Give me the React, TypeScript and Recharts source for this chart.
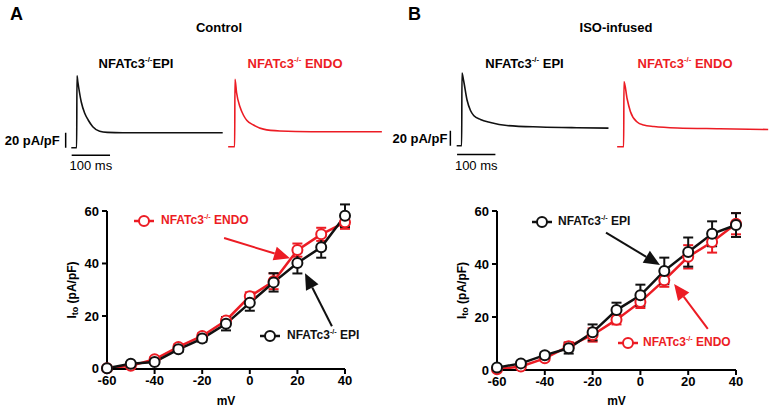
import React from "react";
import { LineChart, Line, XAxis, YAxis, ErrorBar, ReferenceLine, Legend } from "recharts";

const RED = "#ec1c24";
const BLACK = "#111111";
const FONT = "Arial, 'Liberation Sans', Helvetica, sans-serif";

// step potentials (mV)
const voltages = [-60, -50, -40, -30, -20, -10, 0, 10, 20, 30, 40];

// Control: Ito density (pA/pF), mean and SEM
const ctrlEpi = [0.1, 1.8, 2.5, 7.3, 11.4, 17, 25, 32.8, 40.2, 46.2, 58.2];
const ctrlEpiErr = [0.3, 0.5, 0.8, 1, 1.2, 2.5, 3, 3.5, 4, 4, 4.3];
const ctrlEndo = [0.1, 1.0, 3.5, 8.2, 12.4, 18.3, 27.5, 33.2, 45.1, 51.1, 55.7];
const ctrlEndoErr = [0.3, 0.4, 0.8, 1, 1, 1.3, 1.5, 3, 2.5, 2.5, 2.5];

// ISO-infused
const isoEpi = [0.9, 2.5, 5.6, 8.2, 14.2, 22.6, 28.2, 37.4, 44.5, 51.4, 54.7];
const isoEpiErr = [0.5, 0.7, 1, 2, 3, 2.8, 4, 5, 5.5, 4.7, 4.5];
const isoEndo = [0.3, 1.3, 4.4, 9, 13.2, 19, 25.7, 33.9, 42.7, 48.3, 55.2];
const isoEndoErr = [0.3, 0.5, 0.8, 1.5, 2.5, 1.8, 2.3, 2.5, 4.4, 4, 4];

const xTicks = [-60, -40, -20, 0, 20, 40];
const yTicks = [0, 20, 40, 60];

// example Ito traces: time (ms) / current (pA/pF)
const ctrlEpiTraceT = [-14, 0, 0.8, 3, 6, 12, 21, 30, 42, 60, 80, 120, 200, 290, 381];
const ctrlEpiTraceI = [0, 0, 96, 88, 78, 61, 46, 37, 28, 22, 20.5, 20, 20, 20, 20];
const ctrlEndoTraceT = [-17, 0, 0.8, 5, 14, 23, 32, 49, 75, 118, 200, 300, 384];
const ctrlEndoTraceI = [0, 0, 90, 72, 53, 42, 35, 29, 23.5, 21, 20, 20, 20];
const isoEpiTraceT = [-13, 0, 0.8, 5, 14, 23, 32, 49, 75, 118, 205, 300, 383];
const isoEpiTraceI = [0, 0, 97, 87, 61, 47, 40, 35, 31, 27, 25, 24, 23.5];
const isoEndoTraceT = [-17, 0, 0.8, 9, 17.5, 35, 52, 79, 140, 250, 377];
const isoEndoTraceI = [0, 0, 87, 64, 47, 33, 29, 27, 25, 24, 23];

// arrows pointing at the curves, in (mV, pA/pF)
const ctrlArrows = [
  { color: RED, from: [-10.8, 49.7], to: [16.9, 42.0] },
  { color: BLACK, from: [34.5, 16.1], to: [23.2, 36.3] },
];
const isoArrows = [
  { color: BLACK, from: [-14.4, 51.8], to: [8.2, 39.6] },
  { color: RED, from: [28.2, 15.5], to: [14.1, 32.5] },
];

const arrowShape = (color: string) => (props: any) => {
  const { x1, y1, x2, y2 } = props;
  const a = Math.atan2(y2 - y1, x2 - x1);
  const len = 16;
  const half = 7;
  const bx = x2 - len * Math.cos(a);
  const by = y2 - len * Math.sin(a);
  const px = -Math.sin(a) * half;
  const py = Math.cos(a) * half;
  return (
    <g>
      <line x1={x1} y1={y1} x2={bx} y2={by} stroke={color} strokeWidth={2} />
      <polygon points={`${x2},${y2} ${bx + px},${by + py} ${bx - px},${by - py}`} fill={color} />
    </g>
  );
};

const Geno = ({ tail }: { tail: string }) => (
  <span>
    NFATc3<span style={{ fontSize: "0.6em", position: "relative", top: "-0.7em" }}>-/-</span>
    {tail}
  </span>
);

function Trace({ t, i, color, left, top, bars }: any) {
  const data = t.map((v: number, k: number) => ({ t: v, i: i[k] }));
  const lbl = { fill: "#000", fontSize: 13, fontFamily: FONT };
  return (
    <div style={{ position: "absolute", left, top }}>
      <LineChart width={230} height={102} data={data} margin={{ top: 0, right: 0, bottom: 0, left: 0 }}>
        <XAxis type="number" dataKey="t" domain={[-200, 400]} hide />
        <YAxis type="number" domain={[-35, 101]} hide />
        <Line type="monotone" dataKey="i" stroke={color} strokeWidth={1.6} dot={false} isAnimationActive={false} />
        {bars && (
          <ReferenceLine
            segment={[{ x: bars.vt, y: 0 }, { x: bars.vt, y: 20 }]}
            stroke="#000"
            strokeWidth={1.5}
            ifOverflow="visible"
            label={{ value: "20 pA/pF", position: "left", offset: bars.vOffset, fontWeight: 700, ...lbl }}
          />
        )}
        {bars && (
          <ReferenceLine
            segment={[{ x: bars.ht[0], y: bars.hi }, { x: bars.ht[1], y: bars.hi }]}
            stroke="#000"
            strokeWidth={1.5}
            ifOverflow="visible"
            label={{ value: "100 ms", position: "bottom", offset: 6, ...lbl }}
          />
        )}
      </LineChart>
    </div>
  );
}

function IVChart({ left, top, width, height, xAxisHeight, epi, epiErr, endo, endoErr, arrows, legendItems }: any) {
  const data = voltages.map((v, k) => ({
    mV: v,
    epi: epi[k],
    epiErr: epiErr[k],
    endo: endo[k],
    endoErr: endoErr[k],
  }));
  const tick = { fill: "#000", fontSize: 13, fontWeight: 700, fontFamily: FONT };

  // error bars above 60 stretch the value axis; keep 60 at the same pixel
  const plotH60 = height - 21 - xAxisHeight;
  const yMax = Math.max(60, ...data.map((d) => Math.max(d.epi + d.epiErr, d.endo + d.endoErr)));
  const marginTop = 21 - ((yMax - 60) * plotH60) / 60;

  const yLabel = (props: any) => {
    const vb = props.viewBox;
    const cx = vb.x + vb.width - 35;
    const cy = vb.y + vb.height - plotH60 / 2;
    return (
      <text
        x={cx}
        y={cy}
        transform={`rotate(-90 ${cx} ${cy})`}
        textAnchor="middle"
        dominantBaseline="central"
        fontFamily={FONT}
        fontSize={12}
        fontWeight={700}
        fill="#000"
      >
        I<tspan fontSize={9} dy={3}>to</tspan>
        <tspan dy={-3}> (pA/pF)</tspan>
      </text>
    );
  };

  const legendContent = () => (
    <div style={{ position: "relative", width, height }}>
      {legendItems.map((it: any) => (
        <div
          key={it.key}
          style={{
            position: "absolute",
            left: it.x - 10,
            top: it.y - 7,
            height: 14,
            display: "flex",
            alignItems: "center",
            whiteSpace: "nowrap",
          }}
        >
          <svg width={20} height={14} style={{ overflow: "visible" }}>
            <line x1={0} y1={7} x2={20} y2={7} stroke={it.color} strokeWidth={2.5} />
            <circle cx={10} cy={7} r={5} fill="#fff" stroke={it.color} strokeWidth={2} />
          </svg>
          <span
            style={{
              marginLeft: it.textX - it.x - 10,
              color: it.color,
              fontFamily: FONT,
              fontWeight: 700,
              fontSize: 12,
              lineHeight: "14px",
            }}
          >
            <Geno tail={it.tail} />
          </span>
        </div>
      ))}
    </div>
  );

  return (
    <div style={{ position: "absolute", left, top }}>
      <LineChart
        width={width}
        height={height}
        data={data}
        margin={{ top: marginTop, right: 20, bottom: 0, left: 50 }}
      >
        <XAxis
          type="number"
          dataKey="mV"
          domain={[-60, 40]}
          ticks={xTicks}
          height={xAxisHeight}
          tick={tick}
          tickSize={5}
          tickMargin={2}
          axisLine={{ stroke: "#000", strokeWidth: 2 }}
          tickLine={{ stroke: "#000", strokeWidth: 2 }}
          label={{ value: "mV", position: "insideBottom", offset: 4, fill: "#000", fontSize: 12, fontWeight: 700, fontFamily: FONT }}
        />
        <YAxis
          type="number"
          domain={[0, yMax]}
          ticks={yTicks}
          width={57}
          tick={tick}
          tickSize={5}
          tickMargin={3}
          axisLine={false}
          tickLine={{ stroke: "#000", strokeWidth: 2 }}
          label={{ content: yLabel }}
        />
        <ReferenceLine
          segment={[{ x: -60, y: 0 }, { x: -60, y: 60 }]}
          stroke="#000"
          strokeWidth={2}
          ifOverflow="visible"
        />
        {arrows.map((a: any, k: number) => (
          <ReferenceLine
            key={k}
            segment={[{ x: a.from[0], y: a.from[1] }, { x: a.to[0], y: a.to[1] }]}
            ifOverflow="visible"
            stroke={a.color}
            shape={arrowShape(a.color)}
          />
        ))}
        <Line
          type="linear"
          dataKey="endo"
          stroke={RED}
          strokeWidth={2.5}
          dot={{ r: 5, fill: "#fff", stroke: RED, strokeWidth: 2 }}
          isAnimationActive={false}
        >
          <ErrorBar dataKey="endoErr" direction="y" width={5} stroke={RED} strokeWidth={2} />
        </Line>
        <Line
          type="linear"
          dataKey="epi"
          stroke={BLACK}
          strokeWidth={2.5}
          dot={{ r: 5, fill: "#fff", stroke: BLACK, strokeWidth: 2 }}
          isAnimationActive={false}
        >
          <ErrorBar dataKey="epiErr" direction="y" width={5} stroke={BLACK} strokeWidth={2} />
        </Line>
        <Legend
          layout="horizontal"
          align="center"
          verticalAlign="middle"
          content={legendContent}
          wrapperStyle={{ left: 0, top: 0, width, height, pointerEvents: "none" }}
        />
      </LineChart>
    </div>
  );
}

const abs = (left: number, top: number, size: number, extra: any = {}) => ({
  position: "absolute" as const,
  left,
  top,
  fontFamily: FONT,
  fontWeight: 700,
  fontSize: size,
  lineHeight: 1,
  whiteSpace: "nowrap" as const,
  ...extra,
});
const centered = { transform: "translateX(-50%)" };

export default function App() {
  return (
    <div
      style={{
        position: "absolute",
        left: 0,
        top: 0,
        width: 771,
        height: 409,
        background: "#fff",
        overflow: "hidden",
      }}
    >
      <div style={abs(10, 4.5, 18)}>A</div>
      <div style={abs(408, 4.5, 18)}>B</div>
      <div style={abs(219, 21.3, 13, centered)}>Control</div>
      <div style={abs(616, 21.3, 13, centered)}>ISO-infused</div>
      <div style={abs(136, 56.8, 13, centered)}>
        <Geno tail="EPI" />
      </div>
      <div style={abs(295, 56.8, 13, { ...centered, color: RED })}>
        <Geno tail=" ENDO" />
      </div>
      <div style={abs(524.5, 56.8, 13, centered)}>
        <Geno tail=" EPI" />
      </div>
      <div style={abs(685, 56.8, 13, { ...centered, color: RED })}>
        <Geno tail=" ENDO" />
      </div>

      <Trace
        t={ctrlEpiTraceT}
        i={ctrlEpiTraceI}
        color={BLACK}
        left={0.3}
        top={72}
        bars={{ vt: -28.7, ht: [-13, 87], hi: -10, vOffset: 6 }}
      />
      <Trace t={ctrlEndoTraceT} i={ctrlEndoTraceI} color={RED} left={158} top={71.25} />
      <Trace
        t={isoEpiTraceT}
        i={isoEpiTraceI}
        color={BLACK}
        left={384.6}
        top={69.75}
        bars={{ vt: -29.5, ht: [-12, 88], hi: -11.7, vOffset: 3 }}
      />
      <Trace t={isoEndoTraceT} i={isoEndoTraceI} color={RED} left={546.6} top={71.25} />

      <IVChart
        left={0}
        top={190}
        width={365}
        height={219}
        xAxisHeight={40}
        epi={ctrlEpi}
        epiErr={ctrlEpiErr}
        endo={ctrlEndo}
        endoErr={ctrlEndoErr}
        arrows={ctrlArrows}
        legendItems={[
          { key: "endo", tail: " ENDO", color: RED, x: 144, y: 31, textX: 161 },
          { key: "epi", tail: " EPI", color: BLACK, x: 270, y: 146, textX: 287 },
        ]}
      />
      <IVChart
        left={390}
        top={190}
        width={366}
        height={219}
        xAxisHeight={39}
        epi={isoEpi}
        epiErr={isoEpiErr}
        endo={isoEndo}
        endoErr={isoEndoErr}
        arrows={isoArrows}
        legendItems={[
          { key: "epi", tail: " EPI", color: BLACK, x: 152, y: 31.7, textX: 168 },
          { key: "endo", tail: " ENDO", color: RED, x: 238, y: 153.3, textX: 253 },
        ]}
      />
    </div>
  );
}
